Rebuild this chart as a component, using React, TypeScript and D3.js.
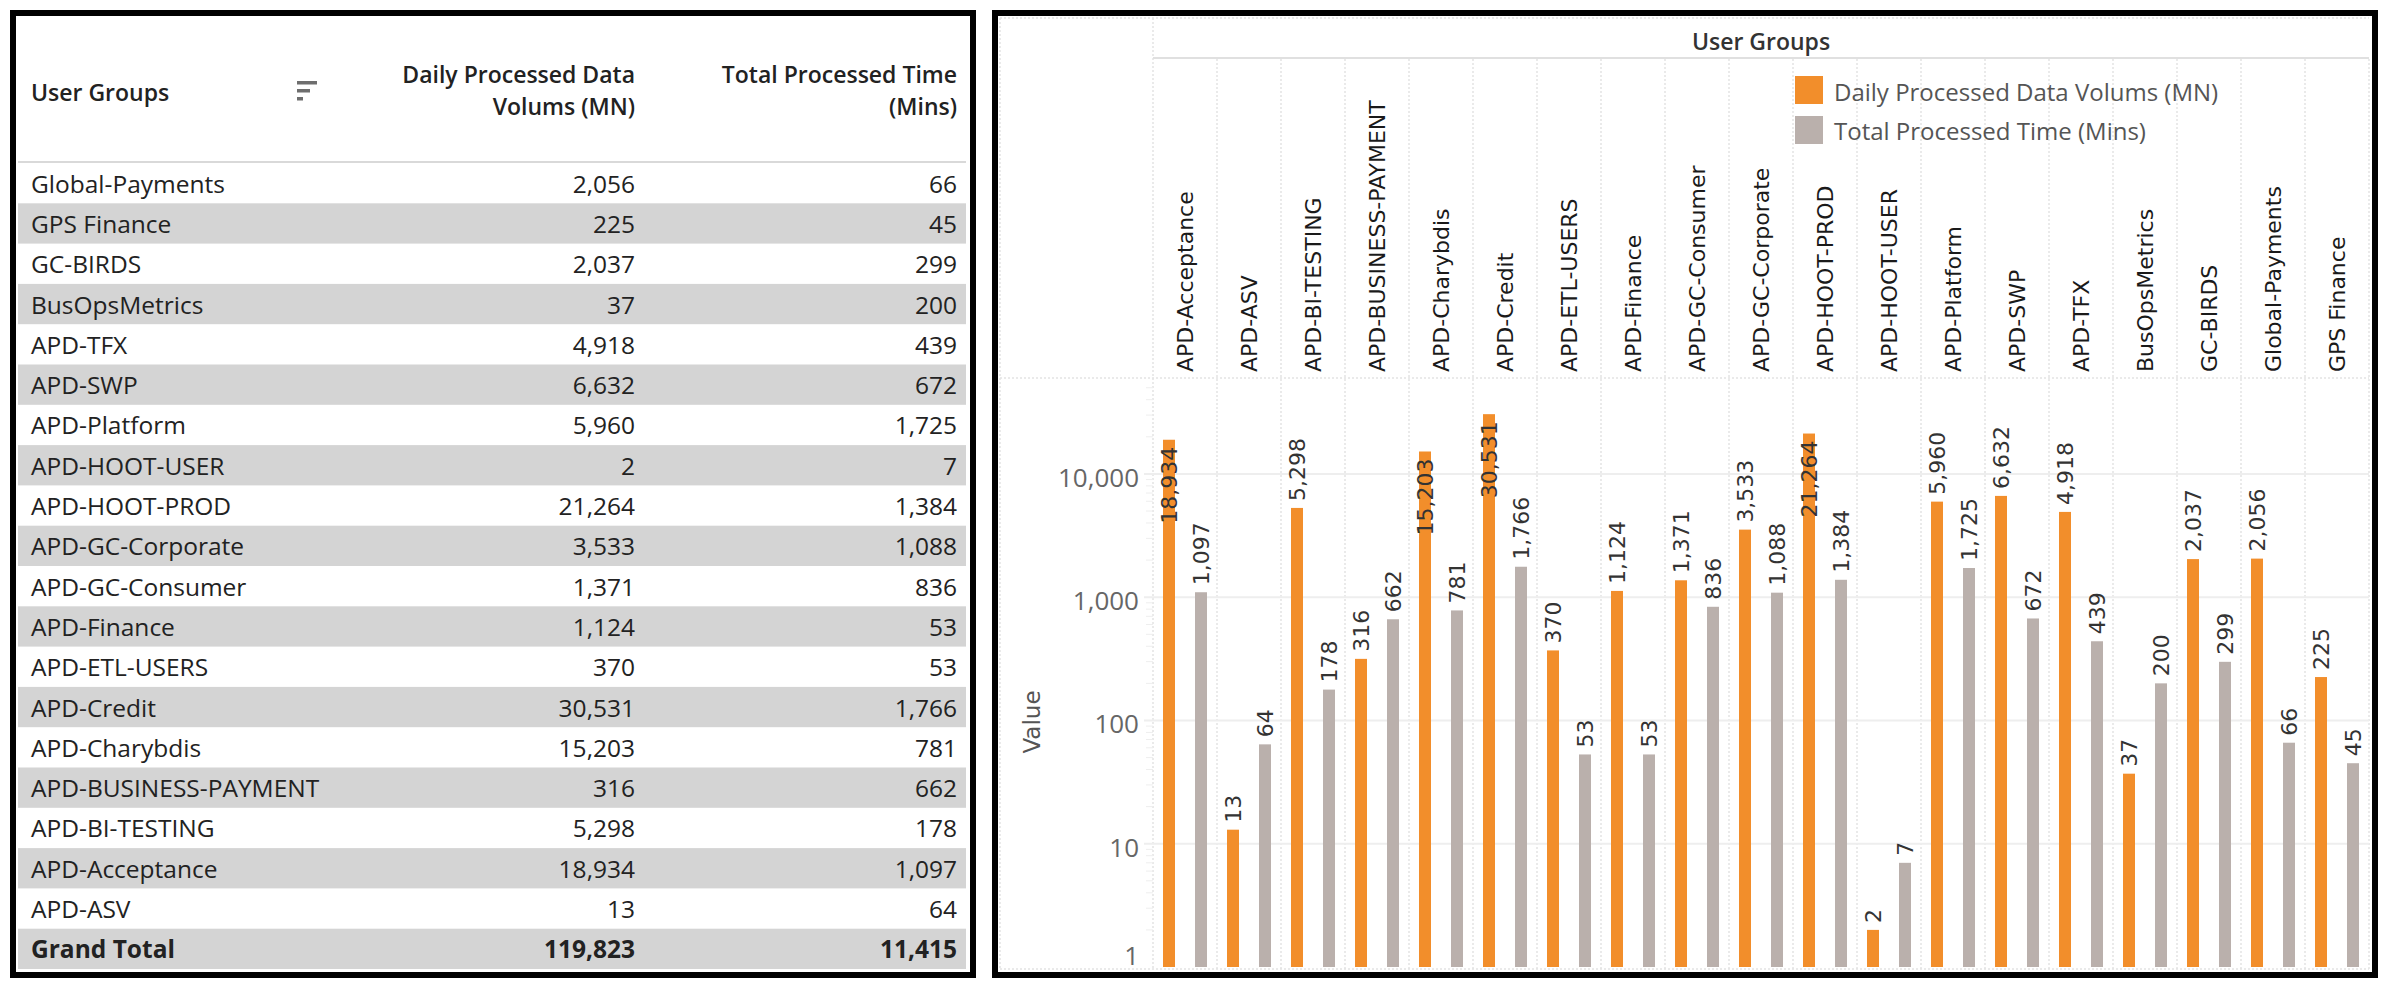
import React from "react";
import * as d3 from "d3";

// chart order (alphabetical, as on the bar chart)
const groups = [
  "APD-Acceptance", "APD-ASV", "APD-BI-TESTING", "APD-BUSINESS-PAYMENT", "APD-Charybdis",
  "APD-Credit", "APD-ETL-USERS", "APD-Finance", "APD-GC-Consumer", "APD-GC-Corporate",
  "APD-HOOT-PROD", "APD-HOOT-USER", "APD-Platform", "APD-SWP", "APD-TFX",
  "BusOpsMetrics", "GC-BIRDS", "Global-Payments", "GPS Finance",
];
const dailyVolumes = [18934, 13, 5298, 316, 15203, 30531, 370, 1124, 1371, 3533, 21264, 2, 5960, 6632, 4918, 37, 2037, 2056, 225];
const processedTimes = [1097, 64, 178, 662, 781, 1766, 53, 53, 836, 1088, 1384, 7, 1725, 672, 439, 200, 299, 66, 45];

// table order (sorted descending by name)
const tableOrder = [
  "Global-Payments", "GPS Finance", "GC-BIRDS", "BusOpsMetrics", "APD-TFX", "APD-SWP",
  "APD-Platform", "APD-HOOT-USER", "APD-HOOT-PROD", "APD-GC-Corporate", "APD-GC-Consumer",
  "APD-Finance", "APD-ETL-USERS", "APD-Credit", "APD-Charybdis", "APD-BUSINESS-PAYMENT",
  "APD-BI-TESTING", "APD-Acceptance", "APD-ASV",
];
const grandTotals = [119823, 11415];

const seriesNames = ["Daily Processed Data Volums (MN)", "Total Processed Time (Mins)"];
const seriesColors = ["#f28e2b", "#bab0ac"];
const yTicks = [1, 10, 100, 1000, 10000];

const W = 2390;
const H = 992;
const TAB = "'Open Sans', Lato, sans-serif";
const DJV = "'DejaVu Sans', Verdana, sans-serif";

const fmt = d3.format(",");

let measureCtx: CanvasRenderingContext2D | null = null;
function textWidth(s: string, font: string): number {
  if (!measureCtx) measureCtx = document.createElement("canvas").getContext("2d");
  if (!measureCtx) return s.length * 12;
  measureCtx.font = font;
  return measureCtx.measureText(s).width;
}

function Table() {
  const top = 162;
  const rowH = 40.3;
  const rows = tableOrder.map((name) => {
    const i = groups.indexOf(name);
    return { name, vol: dailyVolumes[i], time: processedTimes[i], bold: false };
  });
  rows.push({ name: "Grand Total", vol: grandTotals[0], time: grandTotals[1], bold: true });

  return (
    <g>
      <rect x={13} y={13} width={960} height={962} fill="#fff" stroke="#000" strokeWidth={6} />
      <g fontFamily={TAB} fontSize={23} fill="#222" fontWeight={600}>
        <text x={31} y={92} dominantBaseline="central">User Groups</text>
        <text x={635} y={74} textAnchor="end" dominantBaseline="central">Daily Processed Data</text>
        <text x={635} y={106} textAnchor="end" dominantBaseline="central">Volums (MN)</text>
        <text x={957} y={74} textAnchor="end" dominantBaseline="central">Total Processed Time</text>
        <text x={957} y={106} textAnchor="end" dominantBaseline="central">(Mins)</text>
      </g>
      <g fill="#6e6e6e">
        <rect x={297} y={81} width={20} height={3.5} />
        <rect x={297} y={89} width={13} height={3.5} />
        <rect x={297} y={97} width={6} height={3.5} />
      </g>
      <line x1={18} x2={966} y1={top} y2={top} stroke="#d9d9d9" strokeWidth={2} />
      {rows.map((r, i) => {
        const y = top + i * rowH;
        return (
          <g key={r.name} fontFamily={TAB} fontSize={24.5} fill="#222" fontWeight={r.bold ? 700 : 400}>
            {i % 2 === 1 && <rect x={18} y={y + 1} width={948} height={rowH} fill="#d4d4d4" />}
            <text x={31} y={y + rowH / 2 + 1} dominantBaseline="central">{r.name}</text>
            <text x={635} y={y + rowH / 2 + 1} textAnchor="end" dominantBaseline="central">{fmt(r.vol)}</text>
            <text x={957} y={y + rowH / 2 + 1} textAnchor="end" dominantBaseline="central">{fmt(r.time)}</text>
          </g>
        );
      })}
    </g>
  );
}

function BarChart() {
  const left = 1153;
  const right = 2369;
  const plotTop = 378;
  const plotBottom = 967;
  const labelFont = 22;

  const x = d3.scaleBand().domain(groups).range([left, right]);
  const sub = d3.scaleBand<number>().domain([0, 1]).range([0, x.bandwidth()]);
  const y = d3.scaleLog().domain([1, 60000]).range([plotBottom, plotTop]);
  const barW = 12;

  const minor: number[] = [];
  yTicks.forEach((d) => {
    for (let m = 2; m <= 9; m++) if (m * d < 60000) minor.push(m * d);
  });

  const series = [dailyVolumes, processedTimes];

  return (
    <g>
      <rect x={995} y={13} width={1380} height={962} fill="#fff" stroke="#000" strokeWidth={6} />
      {/* pane outlines */}
      <g stroke="#e4e4e4" strokeWidth={1.5} strokeDasharray="2,2" fill="none">
        <line x1={1000} x2={right} y1={18} y2={18} />
        <line x1={1000} x2={1000} y1={18} y2={969} />
        <line x1={1000} x2={right} y1={969} y2={969} />
        <line x1={1000} x2={right} y1={plotTop} y2={plotTop} />
        {x.domain().map((g) => (
          <line key={g} x1={x(g)!} x2={x(g)!} y1={x(g) === left ? 18 : 59} y2={969} />
        ))}
        <line x1={right} x2={right} y1={59} y2={969} />
      </g>
      <line x1={left} x2={right} y1={58} y2={58} stroke="#e0e0e0" strokeWidth={2} />
      <text x={(left + right) / 2} y={41} textAnchor="middle" dominantBaseline="central"
        fontFamily={TAB} fontSize={23} fontWeight={600} fill="#333">User Groups</text>

      {/* grid */}
      {yTicks.slice(1).map((t) => (
        <line key={t} x1={1144} x2={right} y1={y(t)} y2={y(t)} stroke="#eeeeee" strokeWidth={2} />
      ))}
      {minor.map((t) => (
        <line key={t} x1={1146} x2={left} y1={y(t)} y2={y(t)} stroke="#eeeeee" strokeWidth={1} />
      ))}
      {yTicks.map((t) => (
        <text key={t} x={1139} y={Math.min(y(t), 952) + 3} textAnchor="end" dominantBaseline="central"
          fontFamily={TAB} fontSize={26} fill="#666">{fmt(t)}</text>
      ))}
      <text transform="translate(1032,722) rotate(-90)" textAnchor="middle"
        dominantBaseline="central" fontFamily={DJV} fontSize={23} fill="#555">Value</text>

      {/* column labels */}
      {groups.map((g) => (
        <text key={g} transform={`translate(${x(g)! + x.bandwidth() / 2},372) rotate(-90)`} dy="0.36em"
          fontFamily={DJV} fontSize={22} fill="#1a1a1a">{g}</text>
      ))}

      {/* bars */}
      {series.map((vals, s) =>
        vals.map((v, i) => {
          const g = groups[i];
          const cx = x(g)! + sub(s)! + sub.bandwidth() / 2;
          const top = y(v);
          const label = fmt(v);
          const len = textWidth(label, `${labelFont}px 'DejaVu Sans'`);
          const inside = top - 7 - len < plotTop;
          return (
            <g key={`${s}-${g}`}>
              <rect x={cx - barW / 2} y={top} width={barW} height={plotBottom - top} fill={seriesColors[s]} />
              <text transform={`translate(${cx},${inside ? top + 7 : top - 7}) rotate(-90)`} dy="0.36em"
                textAnchor={inside ? "end" : "start"} fontFamily={DJV} fontSize={labelFont} fill="#333">
                {label}
              </text>
            </g>
          );
        })
      )}

      {/* legend */}
      {seriesNames.map((n, i) => (
        <g key={n}>
          <rect x={1795} y={76 + i * 40} width={28} height={28} fill={seriesColors[i]} />
          <text x={1834} y={91 + i * 39} dominantBaseline="central" fontFamily={TAB} fontSize={24} fill="#555">{n}</text>
        </g>
      ))}
    </g>
  );
}

export default function App() {
  return (
    <svg width={W} height={H} style={{ position: "absolute", left: 0, top: 0, background: "#fff" }}>
      <rect width={W} height={H} fill="#fff" />
      <Table />
      <BarChart />
    </svg>
  );
}
